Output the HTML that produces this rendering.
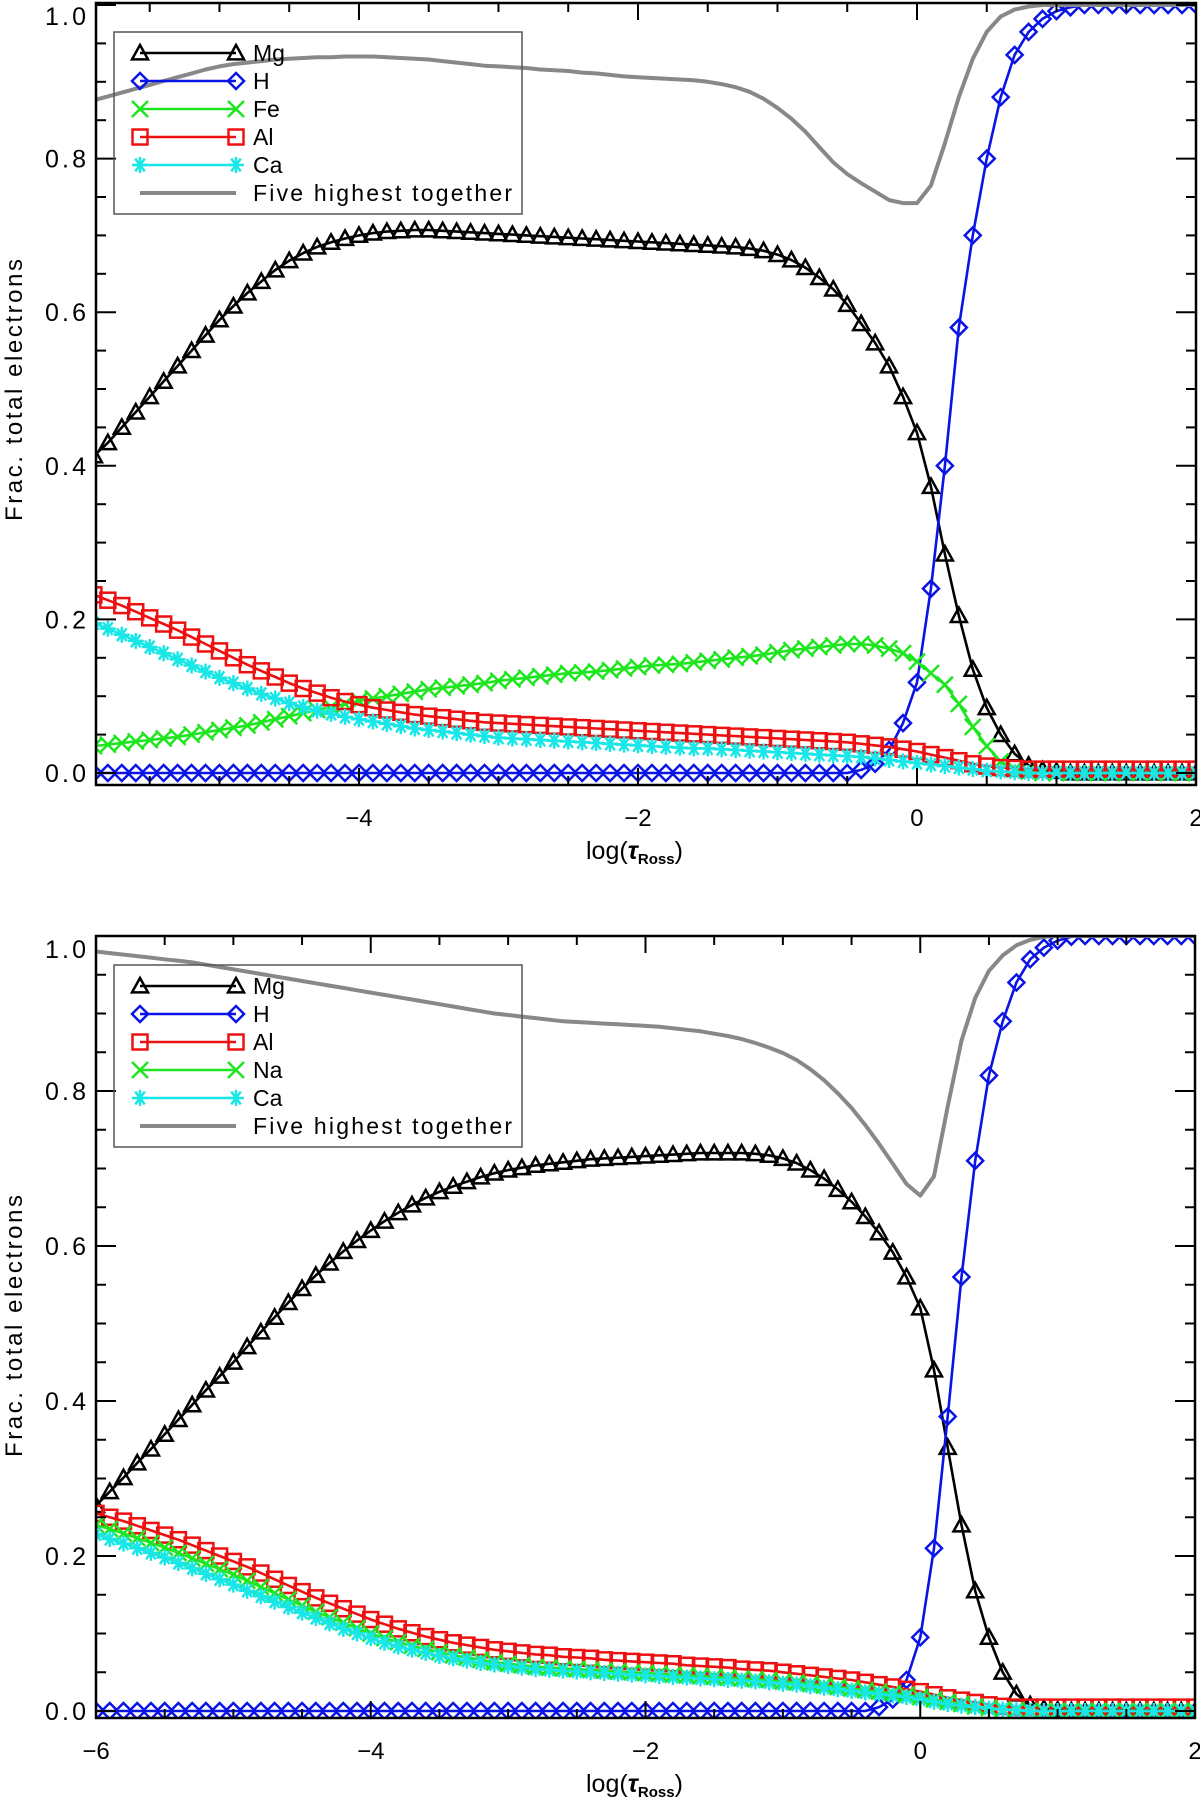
<!DOCTYPE html>
<html><head><meta charset="utf-8">
<style>
html,body{margin:0;padding:0;background:#fff;}
svg{display:block;font-family:"Liberation Sans",sans-serif;}
</style></head>
<body>
<svg id="chart" width="1200" height="1803" viewBox="0 0 1200 1803" xmlns="http://www.w3.org/2000/svg"></svg>
<script>
// ---------- Data: top panel (x = -5.9 .. 2.0 step 0.1) ----------
const topXStart = -5.9;
const topXStep = 0.1;
const topMg = [.413,.43,.45,.47,.49,.51,.53,.55,.57,.59,
.608,.625,.64,.655,.667,.677,.685,.691,.696,.70,
.703,.705,.706,.707,.707,.706,.705,.704,.703,.702,
.701,.70,.699,.698,.697,.696,.695,.694,.693,.692,
.691,.69,.689,.688,.687,.686,.685,.683,.68,.675,
.668,.658,.645,.63,.61,.585,.56,.53,.49,.443,
.373,.285,.205,.135,.085,.05,.025,.01,.004,.002,
0,0,0,0,0,0,0,0,0,0];
const topH = [0,0,0,0,0,0,0,0,0,0,
0,0,0,0,0,0,0,0,0,0,
0,0,0,0,0,0,0,0,0,0,
0,0,0,0,0,0,0,0,0,0,
0,0,0,0,0,0,0,0,0,0,
0,0,0,0,0,.004,.012,.03,.065,.118,
.24,.4,.58,.7,.8,.88,.935,.965,.982,.992,
.997,1,1,1,1,1,1,1,1,1];
const topFe = [.035,.037,.039,.041,.043,.045,.047,.05,.053,.056,
.059,.062,.066,.07,.074,.078,.082,.086,.09,.094,
.097,.1,.103,.106,.109,.111,.113,.115,.117,.12,
.122,.124,.126,.128,.13,.131,.132,.134,.136,.138,
.14,.141,.142,.144,.146,.148,.15,.152,.154,.157,
.16,.162,.164,.166,.168,.168,.166,.162,.156,.145,
.13,.115,.09,.06,.035,.015,.005,.002,0,0,
0,0,0,0,0,0,0,0,0,0];
const topAl = [.232,.225,.218,.21,.202,.194,.186,.177,.168,.159,
.15,.141,.133,.125,.117,.11,.104,.098,.093,.089,
.085,.082,.079,.076,.074,.072,.07,.068,.066,.065,
.064,.063,.062,.061,.06,.059,.058,.057,.056,.055,
.054,.053,.052,.051,.05,.049,.048,.047,.046,.045,
.044,.043,.042,.041,.04,.038,.036,.034,.031,.028,
.024,.02,.016,.012,.009,.007,.006,.005,.005,.005,
.005,.005,.005,.005,.005,.005,.005,.005,.005,.005];
const topCa = [.195,.188,.18,.172,.164,.156,.148,.14,.132,.124,
.117,.11,.103,.097,.091,.086,.081,.077,.073,.07,
.067,.064,.061,.058,.056,.054,.052,.05,.048,.046,
.045,.044,.043,.042,.041,.04,.039,.038,.037,.036,
.035,.034,.033,.032,.032,.031,.03,.029,.028,.027,
.026,.025,.024,.023,.022,.021,.019,.017,.015,.013,
.011,.009,.007,.005,.003,.002,.001,0,0,0,
0,0,0,0,0,0,0,0,0,0];
const topSum = [.876,.881,.886,.891,.896,.901,.906,.911,.916,.92,
.923,.925,.927,.929,.93,.931,.932,.932,.933,.933,
.933,.932,.931,.93,.929,.927,.925,.923,.921,.92,
.919,.918,.916,.915,.914,.912,.911,.909,.907,.906,
.905,.904,.903,.902,.9,.897,.893,.887,.878,.866,
.852,.835,.815,.795,.78,.768,.757,.746,.742,.742,
.765,.82,.88,.93,.965,.985,.994,.998,1,1,
1,1,1,1,1,1,1,1,1,1];

// ---------- Data: bottom panel (x = -6.0 .. 2.0 step 0.1) ----------
const botXStart = -6.0;
const botXStep = 0.1;
const botMg = [.265,.283,.301,.32,.338,.357,.376,.395,.414,.432,.45,
.47,.489,.508,.527,.545,.562,.578,.593,.607,.62,
.632,.643,.653,.662,.67,.677,.683,.689,.694,.698,
.701,.704,.706,.708,.71,.712,.713,.714,.715,.716,
.717,.718,.719,.72,.72,.72,.72,.719,.717,.713,
.707,.698,.687,.673,.657,.638,.617,.592,.56,.52,
.44,.34,.24,.155,.095,.05,.022,.008,.003,.001,
0,0,0,0,0,0,0,0,0,0];
const botH = [0,0,0,0,0,0,0,0,0,0,0,
0,0,0,0,0,0,0,0,0,0,
0,0,0,0,0,0,0,0,0,0,
0,0,0,0,0,0,0,0,0,0,
0,0,0,0,0,0,0,0,0,0,
0,0,0,0,0,0,.005,.015,.04,.095,
.21,.38,.56,.71,.82,.89,.94,.97,.985,.994,
.999,1,1,1,1,1,1,1,1,1];
const botAl = [.255,.25,.245,.239,.233,.227,.221,.214,.207,.2,.193,
.186,.178,.17,.162,.154,.146,.139,.132,.125,.118,
.112,.106,.101,.096,.092,.088,.085,.082,.079,.077,
.075,.073,.072,.07,.069,.068,.066,.065,.064,.063,
.062,.061,.059,.058,.057,.056,.054,.053,.052,.05,
.048,.046,.044,.042,.04,.037,.034,.031,.028,.025,
.021,.017,.014,.011,.008,.006,.005,.005,.005,.005,
.005,.005,.005,.005,.005,.005,.005,.005,.005,.005];
const botNa = [.24,.235,.229,.223,.217,.211,.204,.197,.19,.183,.176,
.168,.16,.152,.144,.136,.128,.121,.114,.107,.1,
.094,.089,.084,.08,.076,.072,.069,.066,.063,.061,
.059,.057,.056,.055,.054,.053,.052,.051,.05,.049,
.048,.047,.046,.045,.044,.043,.042,.041,.04,.038,
.037,.035,.033,.031,.029,.027,.025,.023,.021,.018,
.015,.012,.009,.006,.004,.002,.001,0,0,0,
0,0,0,0,0,0,0,0,0,0];
const botCa = [.228,.222,.216,.21,.204,.198,.191,.184,.177,.17,.163,
.155,.148,.141,.134,.127,.12,.113,.106,.1,.094,
.088,.083,.079,.075,.071,.068,.065,.062,.06,.058,
.056,.054,.053,.052,.051,.05,.049,.048,.047,.046,
.045,.044,.043,.042,.041,.04,.039,.038,.037,.035,
.034,.032,.03,.028,.026,.024,.022,.02,.018,.015,
.012,.009,.007,.005,.003,.002,.001,0,0,0,
0,0,0,0,0,0,0,0,0,0];
const botSum = [.98,.978,.976,.974,.972,.97,.968,.966,.963,.96,.957,
.954,.951,.948,.945,.942,.939,.936,.933,.93,.927,
.924,.921,.918,.915,.912,.909,.906,.903,.9,.898,
.896,.894,.892,.89,.889,.888,.887,.886,.885,.884,
.883,.881,.879,.877,.874,.871,.867,.862,.856,.849,
.84,.828,.814,.797,.778,.756,.732,.706,.68,.665,
.69,.78,.865,.92,.955,.975,.988,.995,.999,1,
1,1,1,1,1,1,1,1,1,1];

const xTickValues = [-6,-4,-2,0,2];
const xTickLabels = ["\u22126","\u22124","\u22122","0","2"];
const yTickValues = [0,0.2,0.4,0.6,0.8,1.0];
const yTickLabels = ["0.0","0.2","0.4","0.6","0.8","1.0"];
const topLegendNames = ["Mg","H","Fe","Al","Ca","Five highest together"];
const botLegendNames = ["Mg","H","Al","Na","Ca","Five highest together"];

const NS = "http://www.w3.org/2000/svg";
const svg = document.getElementById("chart");
function mk(tag, attrs, parent){
  const e = document.createElementNS(NS, tag);
  for (const k in attrs) e.setAttribute(k, attrs[k]);
  (parent||svg).appendChild(e);
  return e;
}
const C = {black:"#000", blue:"#0a14e6", green:"#1ee61e", red:"#ee1010", cyan:"#19e6e6", gray:"#888"};

function marker(g, type, cx, cy, color){
  const s = 8;
  const w = 2.5;
  let e;
  if (type === "tri") {
    e = mk("polygon", {points:`${cx},${cy-s} ${cx-s},${cy+s*0.8} ${cx+s},${cy+s*0.8}`, fill:"none", stroke:color, "stroke-width":w}, g);
  } else if (type === "dia") {
    e = mk("polygon", {points:`${cx},${cy-s} ${cx+s},${cy} ${cx},${cy+s} ${cx-s},${cy}`, fill:"none", stroke:color, "stroke-width":w}, g);
  } else if (type === "sq") {
    e = mk("rect", {x:cx-s+0.5, y:cy-s+0.5, width:2*s-1, height:2*s-1, fill:"none", stroke:color, "stroke-width":w}, g);
  } else if (type === "x") {
    e = mk("path", {d:`M${cx-s},${cy-s}L${cx+s},${cy+s}M${cx-s},${cy+s}L${cx+s},${cy-s}`, stroke:color, "stroke-width":w}, g);
  } else if (type === "ast") {
    e = mk("path", {d:`M${cx-s},${cy}L${cx+s},${cy}M${cx-s*0.6},${cy-s*0.8}L${cx+s*0.6},${cy+s*0.8}M${cx-s*0.6},${cy+s*0.8}L${cx+s*0.6},${cy-s*0.8}M${cx},${cy-s}L${cx},${cy+s}`, stroke:color, "stroke-width":w}, g);
  }
  
  
}

function panel(p){
  const g = mk("g", {});
  
  
  const X = v => p.left + (v - p.xmin) / (p.xmax - p.xmin) * (p.right - p.left);
  const Y = v => p.y0 + (p.y1 - p.y0) * v;
  const clipId = p.name + "-clip";
  const cp = mk("clipPath", {id:clipId}, g);
  mk("rect", {x:p.left, y:p.top, width:p.right-p.left, height:p.bottom-p.top}, cp);
  const plot = mk("g", {"clip-path":`url(#${clipId})`}, g);
  
  

  p.series.forEach(s => {
    const sg = mk("g", {}, plot);
    
    
    const pts = s.values.map((v,i) => [X(p.xStart + i*p.xStep), Y(v)]);
    const line = mk("polyline", {points: pts.map(q=>q[0].toFixed(1)+","+q[1].toFixed(1)).join(" "), fill:"none", stroke:s.color, "stroke-width": s.marker ? 2.6 : 4, "stroke-linejoin":"round"}, sg);
    
    
    if (s.marker) pts.forEach(q => marker(sg, s.marker, q[0], q[1], s.color));
  });

  const box = mk("rect", {x:p.left, y:p.top, width:p.right-p.left, height:p.bottom-p.top, fill:"none", stroke:"#000", "stroke-width":2.5}, g);
  
  
  const tk = mk("g", {stroke:"#000", "stroke-width":2}, g);
  
  
  for (let v = Math.ceil(p.xmin*2)/2; v <= p.xmax + 1e-9; v += 0.5) {
    const major = Math.abs(v - Math.round(v/2)*2) < 1e-6;
    const L = major ? 17 : 9;
    const x = X(v);
    mk("line", {x1:x, y1:p.bottom, x2:x, y2:p.bottom-L}, tk);
    mk("line", {x1:x, y1:p.top, x2:x, y2:p.top+L}, tk);
  }
  for (let k = 0; k <= 20; k++) {
    const v = k*0.05;
    const major = k % 4 === 0;
    const L = major ? 20 : 10;
    const y = Y(v);
    mk("line", {x1:p.left, y1:y, x2:p.left+L, y2:y}, tk);
    mk("line", {x1:p.right, y1:y, x2:p.right-L, y2:y}, tk);
  }
  xTickValues.forEach((v,i) => {
    if (v < p.xmin - 0.05) return;
    const t = mk("text", {x:X(v), y:p.bottom+41, "text-anchor":"middle", "font-size":24}, g);
    t.textContent = xTickLabels[i];
    
    
  });
  yTickValues.forEach((v,i) => {
    const by = Math.max(Y(v)+9, p.top+22);
    const t = mk("text", {x:86, y:by, "text-anchor":"end", "font-size":25, textLength:41, lengthAdjust:"spacing"}, g);
    t.textContent = yTickLabels[i];
    
    
  });
  const xt = mk("text", {x:586, y:p.bottom+74, "font-size":25}, g);
  
  
  xt.appendChild(document.createTextNode("log("));
  const tau = mk("tspan", {"font-style":"italic", "font-weight":"bold"}, xt); tau.textContent = "\u03c4";
  const sub = mk("tspan", {"font-size":15, dy:5, "font-weight":"bold"}, xt); sub.textContent = "Ross";
  const cl = mk("tspan", {dy:-5}, xt); cl.textContent = ")";
  const cy = p.yTitleY;
  const yt = mk("text", {x:0, y:0, "font-size":24, "text-anchor":"middle", transform:`translate(22,${cy}) rotate(-90)`, textLength:262, lengthAdjust:"spacing"}, g);
  yt.textContent = "Frac.  total  electrons";
  
  

  const lg = mk("g", {}, g);
  
  
  const lb = mk("rect", {x:114, y:p.top+29, width:408, height:182, fill:"none", stroke:"#555", "stroke-width":1.5}, lg);
  
  
  p.series.forEach((s, i) => {
    const ey = p.top + 50 + i*28;
    const eg = mk("g", {}, lg);
    
    
    mk("line", {x1:140, y1:ey, x2:236, y2:ey, stroke:s.color, "stroke-width": s.marker?2.4:4}, eg);
    if (s.marker) { marker(eg, s.marker, 140, ey, s.color); marker(eg, s.marker, 236, ey, s.color); }
    const t = mk("text", {x:253, y:ey+8, "font-size":23}, eg);
    t.textContent = s.label;
    if (s.label.length > 5) { t.setAttribute("textLength", 259); t.setAttribute("lengthAdjust","spacing"); }
  });
}

panel({name:"top-panel", left:96, right:1196, top:3, bottom:785, xmin:-5.885, xmax:2.0,
  y0:773, y1:5, xStart:topXStart, xStep:topXStep, yTitleY:390,
  series:[
    {label:topLegendNames[0], values:topMg, color:C.black, marker:"tri"},
    {label:topLegendNames[1], values:topH, color:C.blue, marker:"dia"},
    {label:topLegendNames[2], values:topFe, color:C.green, marker:"x"},
    {label:topLegendNames[3], values:topAl, color:C.red, marker:"sq"},
    {label:topLegendNames[4], values:topCa, color:C.cyan, marker:"ast"},
    {label:topLegendNames[5], values:topSum, color:C.gray, marker:null}
  ]});
panel({name:"bottom-panel", left:96, right:1195, top:936, bottom:1718, xmin:-6.0, xmax:2.0,
  y0:1711, y1:936, xStart:botXStart, xStep:botXStep, yTitleY:1326,
  series:[
    {label:botLegendNames[0], values:botMg, color:C.black, marker:"tri"},
    {label:botLegendNames[1], values:botH, color:C.blue, marker:"dia"},
    {label:botLegendNames[2], values:botAl, color:C.red, marker:"sq"},
    {label:botLegendNames[3], values:botNa, color:C.green, marker:"x"},
    {label:botLegendNames[4], values:botCa, color:C.cyan, marker:"ast"},
    {label:botLegendNames[5], values:botSum, color:C.gray, marker:null}
  ]});
</script>
</body></html>
